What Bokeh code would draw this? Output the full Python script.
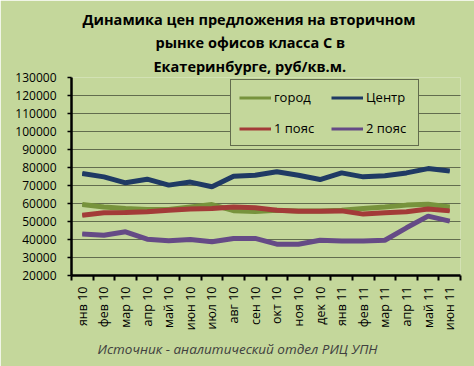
from bokeh.plotting import figure
from bokeh.models import Range1d, FixedTicker, Legend, LegendItem, Title
from bokeh.embed import file_html
from bokeh.resources import INLINE

months = ["янв 10", "фев 10", "мар 10", "апр 10", "май 10", "июн 10", "июл 10", "авг 10", "сен 10",
          "окт 10", "ноя 10", "дек 10", "янв 11", "фев 11", "мар 11", "апр 11", "май 11", "июн 11"]
gorod = [59400, 58100, 57200, 56700, 56700, 58100, 59400, 56000, 55600,
         56300, 55900, 55900, 56300, 57200, 58100, 59100, 59600, 58100]
centr = [76700, 74800, 71500, 73500, 70200, 71900, 69300, 75200, 75700,
         77600, 75700, 73300, 77000, 74800, 75400, 77000, 79400, 78000]
poyas1 = [53500, 54800, 55000, 55400, 56300, 57000, 57200, 58100, 57600,
          56300, 55700, 55700, 55900, 54100, 54800, 55400, 56900, 55900]
poyas2 = [43000, 42400, 44300, 40200, 39300, 40000, 38700, 40600, 40600,
          37400, 37400, 39600, 39100, 39100, 39600, 46500, 53000, 50200]
y_ticks = list(range(20000, 130001, 10000))
series_names = ["город", "Центр", "1 пояс", "2 пояс"]
title_lines = ["Динамика цен предложения на вторичном", "рынке офисов класса С в", "Екатеринбурге, руб/кв.м."]
source_text = "Источник - аналитический отдел РИЦ УПН"

bg = "#C4D79B"
font = "Open Sans"
colors = ["#77933C", "#1F3A64", "#A33B38", "#654A86"]

xs = [i + 0.5 for i in range(len(months))]

p = figure(width=474, height=366, output_backend="svg", toolbar_location=None,
           x_range=Range1d(0, len(months)), y_range=Range1d(20000, 130000),
           min_border_left=71, min_border_right=14, min_border_top=77, min_border_bottom=91)
p.background_fill_color = bg
p.border_fill_color = bg
p.outline_line_color = None

proxies = []
for vals, c in zip([gorod, centr, poyas1, poyas2], colors):
    # thin copy underneath (hidden by the thick line) used as the legend key
    proxies.append(p.line(xs, vals, line_color=c, line_width=3))
    p.line(xs, vals, line_color=c, line_width=5)

# axes
p.xaxis.ticker = FixedTicker(ticks=xs, minor_ticks=list(range(len(months) + 1)))
p.xaxis.major_label_overrides = {x: m for x, m in zip(xs, months)}
p.xaxis.major_label_orientation = 3.14159265 / 2
p.xaxis.major_tick_out = 0
p.xaxis.major_tick_in = 0
p.xaxis.minor_tick_out = 5
p.xaxis.minor_tick_in = 0
p.xaxis.minor_tick_line_width = 2
p.xaxis.minor_tick_line_color = "black"
p.xaxis.axis_line_width = 2.5
p.xaxis.axis_line_color = "black"
p.xaxis.major_label_text_font = font
p.xaxis.major_label_text_font_size = "12.5px"
p.xaxis.major_label_text_color = "black"
p.xaxis.major_label_standoff = 6

p.yaxis.ticker = FixedTicker(ticks=y_ticks)
p.yaxis.major_label_overrides = {t: str(t) for t in y_ticks}
p.yaxis.axis_line_width = 2.5
p.yaxis.axis_line_color = "black"
p.yaxis.major_tick_out = 4
p.yaxis.major_tick_in = 0
p.yaxis.major_tick_line_width = 1.5
p.yaxis.minor_tick_out = 0
p.yaxis.minor_tick_in = 0
p.yaxis.major_label_text_font = font
p.yaxis.major_label_text_font_size = "12px"
p.yaxis.major_label_text_color = "black"
p.yaxis.major_label_standoff = 11

p.xgrid.grid_line_color = None
p.ygrid.ticker = FixedTicker(ticks=y_ticks[1:])
p.ygrid.grid_line_color = "black"
p.ygrid.grid_line_dash = "1 1"
p.ygrid.grid_line_width = 1

order = [0, 2, 1, 3]  # legend fills columns first
legend = Legend(items=[LegendItem(label=series_names[i], renderers=[proxies[i]]) for i in order],
                ncols=2, location=(159, 129))
legend.background_fill_color = bg
legend.background_fill_alpha = 1
legend.border_line_color = "black"
legend.border_line_width = 1
legend.label_text_font = font
legend.label_text_font_size = "13px"
legend.label_text_color = "black"
legend.glyph_width = 32
legend.glyph_height = 17
legend.label_height = 17
legend.label_width = 44
legend.label_standoff = 3
legend.padding = 8
legend.spacing = 13
legend.margin = 0
p.add_layout(legend, "center")

title_offsets = [11, 84, 82]
title_standoffs = [3, 1, 4]
for t, off, so in reversed(list(zip(title_lines, title_offsets, title_standoffs))):
    p.add_layout(Title(text=t, align="left", offset=off, standoff=so, text_font=font,
                       text_font_style="bold", text_font_size="14.5px", text_color="black"), "above")

p.add_layout(Title(text=source_text, align="left", offset=26, standoff=9, text_font=font,
                   text_font_style="italic", text_font_size="13.5px", text_color="#404040"), "below")

open("out.html", "w").write(file_html(p, INLINE))
